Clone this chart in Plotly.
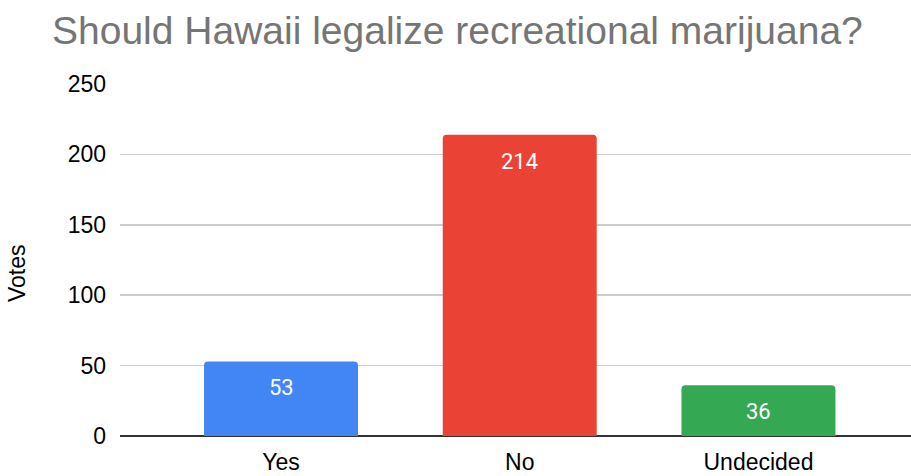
import plotly.graph_objects as go

categories = ["Yes", "No", "Undecided"]
votes = [53, 214, 36]
colors = ["#4285F4", "#EA4335", "#34A853"]
y_ticks = [0, 50, 100, 150, 200, 250]
title_text = "Should Hawaii legalize recreational marijuana?"
y_title = "Votes"

W, H = 911, 476
L, R, T, B = 120, 0, 84, 40
PW, PH = W - L - R, H - T - B

fig = go.Figure()
fig.add_trace(go.Bar(
    x=list(range(len(categories))),
    y=votes,
    marker=dict(color=colors, line=dict(width=0)),
    width=0.645,
    hoverinfo="skip",
))

annotations = []
for i, v in enumerate(votes):
    annotations.append(dict(
        x=i, y=v, xref="x", yref="y", text=str(v), showarrow=False,
        yanchor="top", yshift=-12,
        font=dict(family="Roboto", size=22, color="#ffffff"),
    ))
annotations.append(dict(
    x=(17 - L) / PW, y=(H - B - 273) / PH, xref="paper", yref="paper",
    text=y_title, showarrow=False, textangle=-90,
    xanchor="center", yanchor="middle",
    font=dict(family="Liberation Sans, Arial", size=23, color="#000000"),
))

fig.update_layout(
    width=W, height=H,
    margin=dict(l=L, r=R, t=T, b=B, pad=0),
    paper_bgcolor="#ffffff", plot_bgcolor="#ffffff",
    showlegend=False,
    barcornerradius=4,
    hovermode=False,
    title=dict(
        text=title_text, xref="container", yref="container",
        x=52 / W, xanchor="left", y=1 - 30 / H, yanchor="middle",
        font=dict(family="Liberation Sans, Arial", size=39, color="#757575"),
    ),
    xaxis=dict(
        tickmode="array", tickvals=list(range(len(categories))), ticktext=categories,
        range=[-0.6745, 2.639], showgrid=False, zeroline=False,
        showline=False, ticks="", ticklabelstandoff=10,
        tickfont=dict(family="Liberation Sans, Arial", size=23, color="#000000"),
        fixedrange=True,
    ),
    yaxis=dict(
        range=[0, 250], tickmode="array", tickvals=y_ticks,
        showgrid=True, gridcolor="#cccccc", gridwidth=1.5,
        zeroline=True, zerolinecolor="#333333", zerolinewidth=2,
        showline=False, ticks="", ticklabelstandoff=13,
        tickfont=dict(family="Liberation Sans, Arial", size=23, color="#000000"),
        fixedrange=True,
    ),
    annotations=annotations,
)

fig.write_html(
    "out.html",
    config={"displayModeBar": False, "staticPlot": True},
    post_script="document.body.style.margin='0px';document.body.style.padding='0px';",
)
